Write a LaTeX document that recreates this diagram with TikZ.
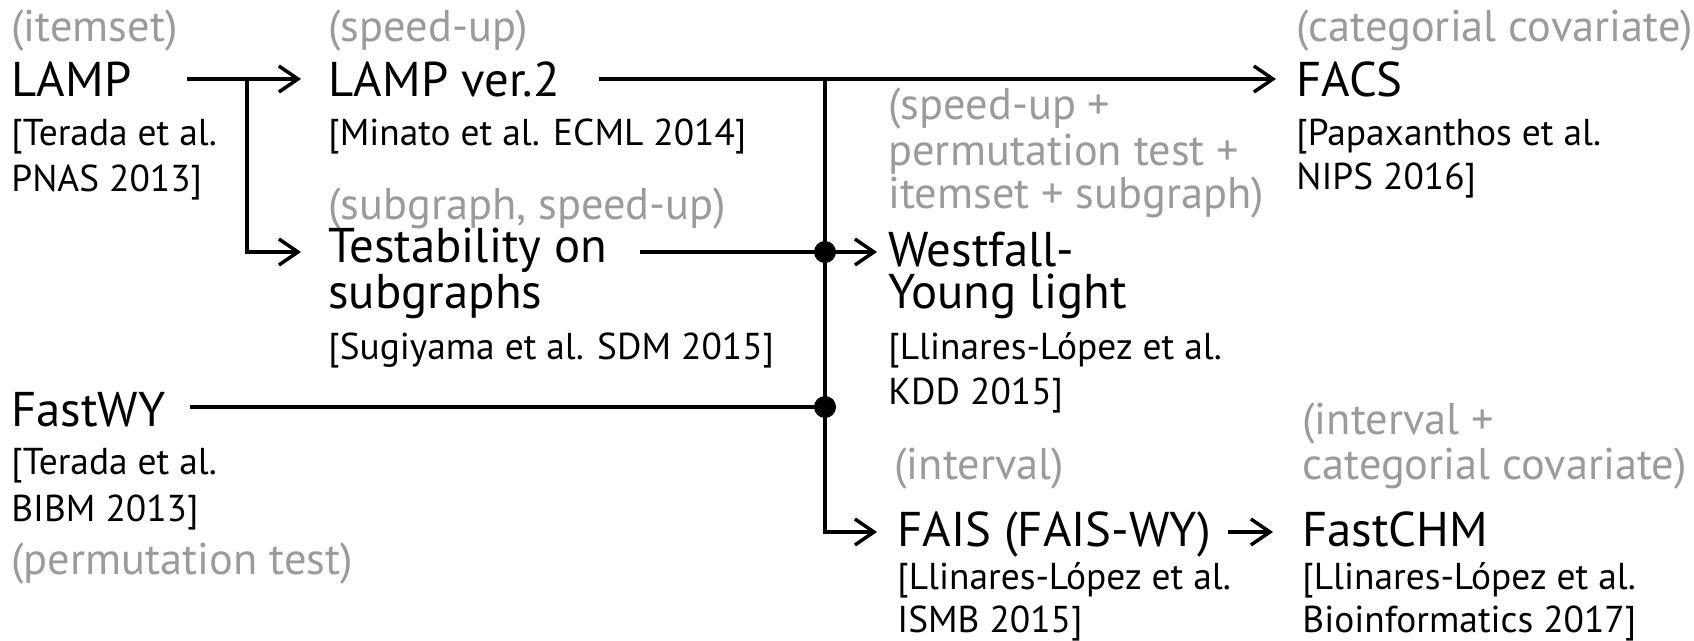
\documentclass[tikz,border=0pt]{standalone}
\usepackage{fontspec}
\setmainfont{PT Sans}
\usetikzlibrary{arrows.meta}
\definecolor{notegray}{RGB}{155,155,155}
\tikzset{
  title/.style={anchor=base west, inner sep=0pt, align=left, font=\fontsize{24.4}{21}\selectfont},
  cite/.style={anchor=base west, inner sep=0pt, font=\fontsize{18.7}{22}\selectfont},
  note/.style={anchor=base west, inner sep=0pt, text=notegray, font=\fontsize{22.2}{26}\selectfont},
  link/.style={line width=1.75pt},
  arr/.style={link, -{Straight Barb[length=9.5pt,width=13pt]}},
  junction/.style={circle, fill, inner sep=0pt, minimum size=11pt},
}
\begin{document}
\begin{tikzpicture}[x=0.5pt,y=-0.5pt]
\useasboundingbox (0,0) rectangle (1694,641);
% column 1
\node[note]  (n-itemset) at (11,42) {(itemset)};
\node[title] (lamp) at (11,97) {LAMP};
\node[cite]  (c-lamp1) at (11,146) {[Terada et al.};
\node[cite]  (c-lamp2) at (11,192) {PNAS 2013]};
\node[title] (fastwy) at (11,427) {FastWY};
\node[cite]  (c-fwy1) at (11,475) {[Terada et al.};
\node[cite]  (c-fwy2) at (11,522) {BIBM 2013]};
\node[note]  (n-perm) at (11,575) {(permutation test)};
% column 2
\node[note]  (n-speed) at (328,42) {(speed-up)};
\node[title] (lamp2) at (328,97) {LAMP ver.2};
\node[cite]  (c-lamp2v) at (328,146) {[Minato et al. ECML 2014]};
\node[note]  (n-subg) at (328,220) {(subgraph, speed-up)};
\node[title] (test) at (328,309) {Testability on\\subgraphs};
\node[cite]  (c-test) at (328,360) {[Sugiyama et al. SDM 2015]};
% column 3
\node[note]  (n-wy1) at (888,120) {(speed-up +};
\node[note]  (n-wy2) at (888,166) {permutation test +};
\node[note]  (n-wy3) at (888,209) {itemset + subgraph)};
\node[title] (wy) at (888,309) {Westfall-\\Young light};
\node[cite]  (c-wy1) at (888,360) {[Llinares-López et al.};
\node[cite]  (c-wy2) at (888,405) {KDD 2015]};
\node[note]  (n-int) at (894,480) {(interval)};
\node[title] (fais) at (897,547) {FAIS (FAIS-WY)};
\node[cite]  (c-fais1) at (897,590) {[Llinares-López et al.};
\node[cite]  (c-fais2) at (897,633) {ISMB 2015]};
% column 4
\node[note]  (n-cat) at (1296,42) {(categorial covariate)};
\node[title] (facs) at (1296,97) {FACS};
\node[cite]  (c-facs1) at (1296,146) {[Papaxanthos et al.};
\node[cite]  (c-facs2) at (1296,190) {NIPS 2016]};
\node[note]  (n-chm1) at (1302,435) {(interval +};
\node[note]  (n-chm2) at (1302,480) {categorial covariate)};
\node[title] (chm) at (1302,547) {FastCHM};
\node[cite]  (c-chm1) at (1302,590) {[Llinares-López et al.};
\node[cite]  (c-chm2) at (1302,633) {Bioinformatics 2017]};
% connector points
\coordinate (lamp-out) at (187,79);
\coordinate (split) at (247,79);
\coordinate (split-down) at (247,252);
\coordinate (lamp2-in) at (301,79);
\coordinate (test-in) at (301,252);
\coordinate (lamp2-out) at (599,79);
\coordinate (bus-top) at (825,79);
\coordinate (facs-in) at (1276,79);
\coordinate (test-out) at (640,252);
\coordinate (wy-in) at (877,252);
\coordinate (fwy-out) at (190,407);
\coordinate (bus-bottom) at (825,532);
\coordinate (fais-in) at (877,532);
\coordinate (fais-out) at (1228,532);
\coordinate (chm-in) at (1273,532);
\node[junction] (dot1) at (825,252) {};
\node[junction] (dot2) at (825,407) {};
% connectors
\draw[arr] (lamp-out) -- (lamp2-in);
\draw[arr] (split) -- (split-down) -- (test-in);
\draw[arr] (lamp2-out) -- (facs-in);
\draw[arr] (bus-top) -- (bus-bottom) -- (fais-in);
\draw[link] (test-out) -- (dot1.center);
\draw[arr] (dot1.center) -- (wy-in);
\draw[link] (fwy-out) -- (dot2.center);
\draw[arr] (fais-out) -- (chm-in);
\end{tikzpicture}
\end{document}
